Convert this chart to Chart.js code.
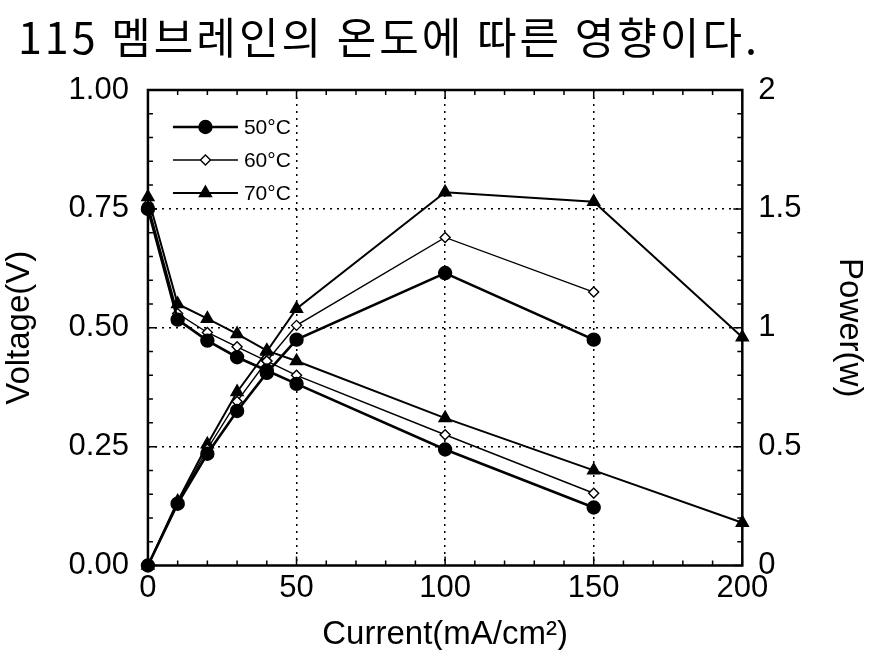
<!DOCTYPE html>
<html>
<head>
<meta charset="utf-8">
<script src="https://cdn.jsdelivr.net/npm/chart.js@4.4.1/dist/chart.umd.min.js"></script>
<style>
html,body{margin:0;padding:0;background:#fff;}
#wrap{width:869px;height:650px;position:relative;}
</style>
</head>
<body>
<div id="wrap"><canvas id="c" width="869" height="650"></canvas></div>
<script>
// ---- data ----
const chartTitle = '115 멤브레인의 온도에 따른 영향이다.';
const seriesLabels = ['50°C', '60°C', '70°C'];
const current50 = [0, 10, 20, 30, 40, 50, 100, 150];
const current60 = [0, 10, 20, 30, 40, 50, 100, 150];
const current70 = [0, 10, 20, 30, 40, 50, 100, 150, 200];
const voltage50 = [0.75, 0.517, 0.473, 0.438, 0.41, 0.382, 0.244, 0.122];
const voltage60 = [0.76, 0.53, 0.49, 0.46, 0.43, 0.40, 0.275, 0.152];
const voltage70 = [0.775, 0.55, 0.519, 0.487, 0.452, 0.43, 0.31, 0.20, 0.09];
const power50 = [0, 0.26, 0.47, 0.65, 0.81, 0.95, 1.23, 0.95];
const power60 = [0, 0.265, 0.49, 0.69, 0.86, 1.01, 1.38, 1.15];
const power70 = [0, 0.27, 0.51, 0.73, 0.90, 1.08, 1.57, 1.53, 0.96];
const xMajorTicks = [0, 50, 100, 150, 200];
const voltageTicks = [0, 0.25, 0.5, 0.75, 1.0];
const powerTicks = [0, 0.5, 1, 1.5, 2];

const FONT = '"Liberation Sans", Arial, sans-serif';
const pts = (xs, ys) => xs.map((x, i) => ({x: x, y: ys[i]}));

const styles = [
  {pointStyle: 'circle',   radius: 6.5, lineWidth: 2.6, fill: '#000'},
  {pointStyle: 'rectRot',  radius: 5,   lineWidth: 1.4, fill: '#fff'},
  {pointStyle: 'triangle', radius: 7,   lineWidth: 2.0, fill: '#000'}
];

function ds(label, xs, ys, s, axis) {
  return {
    label: label,
    data: pts(xs, ys),
    yAxisID: axis,
    borderColor: '#000',
    backgroundColor: s.fill,
    borderWidth: s.lineWidth,
    pointStyle: s.pointStyle,
    pointRadius: s.radius,
    pointBackgroundColor: s.fill,
    pointBorderColor: '#000',
    pointBorderWidth: 1.4,
    tension: 0,
    clip: 12
  };
}

const datasets = [
  ds(seriesLabels[0], current50, voltage50, styles[0], 'y'),
  ds(seriesLabels[1], current60, voltage60, styles[1], 'y'),
  ds(seriesLabels[2], current70, voltage70, styles[2], 'y'),
  ds(seriesLabels[0], current50, power50, styles[0], 'y2'),
  ds(seriesLabels[1], current60, power60, styles[1], 'y2'),
  ds(seriesLabels[2], current70, power70, styles[2], 'y2')
];

const isIn = (arr, v) => arr.some(a => Math.abs(a - v) < 1e-6);

// plugin: frame, inner ticks, in-plot legend, page title
const decor = {
  id: 'decor',
  afterDraw(chart) {
    const ctx = chart.ctx;
    const a = chart.chartArea;
    const sx = chart.scales.x, sy = chart.scales.y, sy2 = chart.scales.y2;
    ctx.save();
    ctx.strokeStyle = '#000';
    // inner ticks
    ctx.lineWidth = 1.5;
    ctx.beginPath();
    sx.ticks.forEach(t => {
      const px = sx.getPixelForValue(t.value);
      const len = isIn(xMajorTicks, t.value) ? 9 : 5;
      ctx.moveTo(px, a.bottom); ctx.lineTo(px, a.bottom - len);
      ctx.moveTo(px, a.top); ctx.lineTo(px, a.top + len);
    });
    sy.ticks.forEach(t => {
      const py = sy.getPixelForValue(t.value);
      const len = isIn(voltageTicks, t.value) ? 9 : 5;
      ctx.moveTo(a.left, py); ctx.lineTo(a.left + len, py);
    });
    sy2.ticks.forEach(t => {
      const py = sy2.getPixelForValue(t.value);
      const len = isIn(powerTicks, t.value) ? 9 : 5;
      ctx.moveTo(a.right, py); ctx.lineTo(a.right - len, py);
    });
    ctx.stroke();
    // frame
    ctx.lineWidth = 2.5;
    ctx.strokeRect(a.left, a.top, a.right - a.left, a.bottom - a.top);

    // legend inside plot
    const lx0 = a.left + 25, lx1 = a.left + 90, ly0 = a.top + 37, dy = 33;
    for (let i = 0; i < 3; i++) {
      const s = styles[i];
      const y = ly0 + i * dy;
      ctx.lineWidth = s.lineWidth;
      ctx.beginPath(); ctx.moveTo(lx0, y); ctx.lineTo(lx1, y); ctx.stroke();
      ctx.fillStyle = s.fill;
      ctx.lineWidth = 1.4;
      Chart.helpers.drawPoint(ctx, {pointStyle: s.pointStyle, radius: s.radius, borderWidth: 1.4, rotation: 0}, (lx0 + lx1) / 2, y);
      ctx.fillStyle = '#000';
      ctx.font = '21px ' + FONT;
      ctx.textBaseline = 'middle';
      ctx.textAlign = 'left';
      ctx.fillText(seriesLabels[i], lx1 + 6, y + 1);
    }

    // page title
    ctx.fillStyle = '#000';
    ctx.font = '43px "Noto Sans CJK KR", sans-serif';
    ctx.textBaseline = 'middle';
    ctx.textAlign = 'left';
    try { ctx.letterSpacing = '3px'; } catch (e) {}
    ctx.fillText(chartTitle, 18, 38);
    ctx.restore();
  }
};

new Chart(document.getElementById('c'), {
  type: 'line',
  data: {datasets: datasets},
  plugins: [decor],
  options: {
    responsive: false,
    animation: false,
    devicePixelRatio: 1,
    layout: {padding: {top: 90, left: 0, right: 0, bottom: 0}},
    plugins: {legend: {display: false}, title: {display: false}, tooltip: {enabled: false}},
    elements: {line: {tension: 0}},
    scales: {
      x: {
        type: 'linear', min: 0, max: 200,
        ticks: {
          stepSize: 10, autoSkip: false, maxRotation: 0, padding: 4,
          color: '#000', font: {family: FONT, size: 31},
          callback: v => isIn(xMajorTicks, v) ? String(Math.round(v)) : ''
        },
        grid: {
          drawTicks: false, lineWidth: 1.5,
          color: c => (c.tick && isIn(xMajorTicks, c.tick.value) && c.tick.value > 0 && c.tick.value < 200) ? '#000' : 'rgba(0,0,0,0)'
        },
        border: {display: false, dash: [2, 5]},
        title: {display: true, text: 'Current(mA/cm²)', color: '#000', font: {family: FONT, size: 33, lineHeight: 1.1}, padding: {top: 6, bottom: -3}}
      },
      y: {
        type: 'linear', position: 'left', min: 0, max: 1,
        ticks: {
          stepSize: 0.05, autoSkip: false, padding: 19,
          color: '#000', font: {family: FONT, size: 31},
          callback: v => isIn(voltageTicks, v) ? v.toFixed(2) : ''
        },
        grid: {
          drawTicks: false, lineWidth: 1.5,
          color: c => (c.tick && isIn(voltageTicks, c.tick.value) && c.tick.value > 0 && c.tick.value < 1) ? '#000' : 'rgba(0,0,0,0)'
        },
        border: {display: false, dash: [2, 5]},
        title: {display: true, text: 'Voltage(V)', color: '#000', font: {family: FONT, size: 33}, padding: {top: 0, bottom: 10}}
      },
      y2: {
        type: 'linear', position: 'right', min: 0, max: 2,
        ticks: {
          stepSize: 0.1, autoSkip: false, padding: 16,
          color: '#000', font: {family: FONT, size: 31},
          callback: v => isIn(powerTicks, v) ? String(Math.round(v * 10) / 10) : ''
        },
        grid: {display: false, drawTicks: false},
        border: {display: false},
        title: {display: true, text: 'Power(w)', color: '#000', font: {family: FONT, size: 33}, padding: {top: 0, bottom: 12}}
      }
    }
  }
});
</script>
</body>
</html>
